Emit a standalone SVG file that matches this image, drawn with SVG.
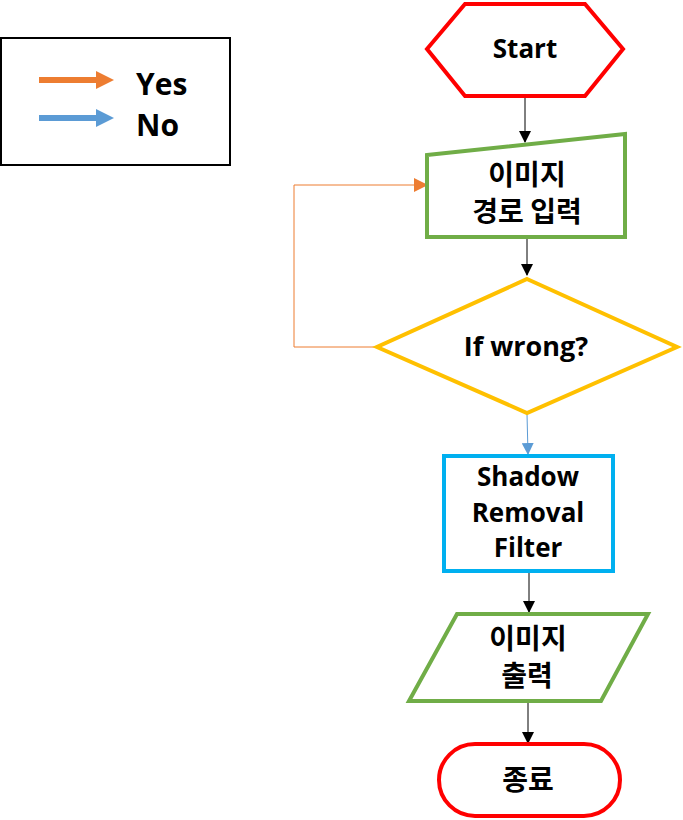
<svg xmlns="http://www.w3.org/2000/svg" width="683" height="820" viewBox="0 0 683 820">
<style>
.t{font-family:"Open Sans","Noto Sans CJK KR","Noto Sans",sans-serif;font-weight:bold;fill:#000;text-anchor:middle}
.k{font-family:"Noto Sans CJK KR","Noto Sans",sans-serif;font-weight:bold;fill:#000;text-anchor:middle;font-size:28px}
.n{fill:#fff;stroke-width:4}
.c{fill:none;stroke:#000;stroke-width:1}
</style>
<defs>
<marker id="ab" markerUnits="userSpaceOnUse" markerWidth="12" markerHeight="12" refX="11" refY="6" orient="auto"><path d="M0,0 L12,6 L0,12 Z" fill="#000"/></marker>
<marker id="ao" markerUnits="userSpaceOnUse" markerWidth="14" markerHeight="14" refX="13" refY="7" orient="auto"><path d="M0,0 L14,7 L0,14 Z" fill="#ED7D31"/></marker>
<marker id="abl" markerUnits="userSpaceOnUse" markerWidth="12" markerHeight="12" refX="11" refY="6" orient="auto"><path d="M0,0 L12,6 L0,12 Z" fill="#5B9BD5"/></marker>
</defs>
<rect width="683" height="820" fill="#fff"/>
<g id="legend">
<rect x="1" y="38" width="229" height="127" fill="#fff" stroke="#000" stroke-width="2"/>
<line x1="39" y1="80" x2="96" y2="80" stroke="#ED7D31" stroke-width="6"/>
<polygon points="96,71 114,80 96,89" fill="#ED7D31"/>
<line x1="39" y1="118" x2="96" y2="118" stroke="#5B9BD5" stroke-width="6"/>
<polygon points="96,109 114,118 96,127" fill="#5B9BD5"/>
<text class="t" x="136" y="95" font-size="30" style="text-anchor:start">Yes</text>
<text class="t" x="136" y="136" font-size="30" style="text-anchor:start">No</text>
</g>
<g id="connectors">
<line class="c" x1="525" y1="98" x2="525" y2="142" marker-end="url(#ab)"/>
<line class="c" x1="527" y1="239" x2="527" y2="275" marker-end="url(#ab)"/>
<polyline points="375,347 294,347 294,185 427,185" fill="none" stroke="#ED7D31" stroke-width="1" marker-end="url(#ao)"/>
<line x1="527" y1="414" x2="528" y2="454" stroke="#5B9BD5" stroke-width="1" marker-end="url(#abl)"/>
<line class="c" x1="529" y1="573" x2="529" y2="612" marker-end="url(#ab)"/>
<line class="c" x1="528" y1="703" x2="528" y2="743" marker-end="url(#ab)"/>
</g>
<g id="start">
<polygon class="n" points="427,49 465,4 585,4 623,49 585,96 465,96" stroke="#FF0000"/>
<text class="t" x="525" y="58" font-size="26">Start</text>
</g>
<g id="input">
<polygon class="n" points="427,155 625,134 625,237 427,237" stroke="#70AD47"/>
<text class="k" x="527" y="185">이미지</text>
<text class="k" x="527" y="222">경로 입력</text>
</g>
<g id="decision">
<polygon class="n" points="527,279 677,347 527,413 377,347" stroke="#FFC000"/>
<text class="t" x="526" y="356" font-size="27">If wrong?</text>
</g>
<g id="filter">
<rect class="n" x="444" y="456" width="169" height="115" stroke="#00B0F0"/>
<text class="t" x="528" y="486" font-size="26">Shadow</text>
<text class="t" x="528" y="522" font-size="26">Removal</text>
<text class="t" x="528" y="557" font-size="26">Filter</text>
</g>
<g id="output">
<polygon class="n" points="457,614 648,614 601,701 409,701" stroke="#70AD47"/>
<text class="k" x="528" y="649">이미지</text>
<text class="k" x="527" y="686">출력</text>
</g>
<g id="end">
<rect class="n" x="439" y="744" width="181" height="72" rx="36" stroke="#FF0000"/>
<text class="k" x="528" y="790">종료</text>
</g>
</svg>
